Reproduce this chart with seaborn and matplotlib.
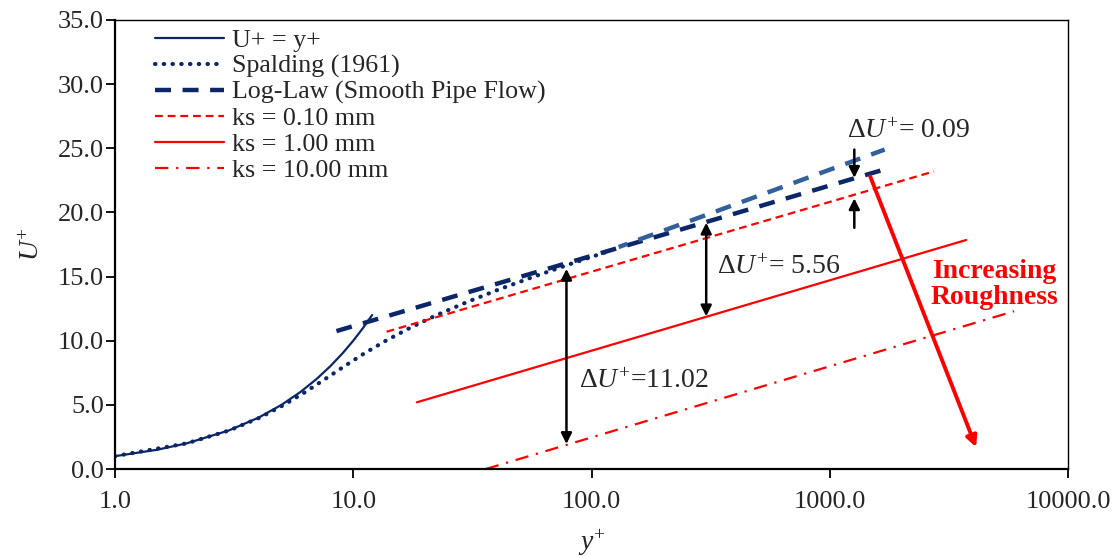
import numpy as np
import pandas as pd
import matplotlib
matplotlib.use("Agg")
import matplotlib.pyplot as plt
import matplotlib.ticker as mticker
import seaborn as sns

# U+ = y+ (viscous sublayer)
visc_yp = [1.0, 1.5, 2.0, 3.0, 4.0, 5.0, 6.0, 7.0, 8.0, 9.0, 10.0, 11.0, 12.0]
visc_up = [1.0, 1.5, 2.0, 3.0, 4.0, 5.0, 6.0, 7.0, 8.0, 9.0, 10.0, 11.0, 12.0]

# Spalding (1961)
spald_yp = [1.0, 2.0, 3.01, 4.05, 5.12, 6.29, 7.6, 9.16, 11.1, 13.7, 17.3, 22.4,
            29.9, 40.9, 57.4, 82.1, 98.8, 119.0]
spald_up = [1.0, 2.0, 3.0, 4.0, 5.0, 6.0, 7.0, 8.0, 9.0, 10.0, 11.0, 12.0,
            13.0, 14.0, 15.0, 16.0, 16.5, 17.0]

# log-law lines (straight on log axis -> end points)
loglaw_yp = [8.5, 1660.0]
loglaw_up = [10.75, 23.3]
loglaw2_yp = [130.0, 1700.0]
loglaw2_up = [17.3, 24.9]

ks010_yp = [13.8, 2740.0]
ks010_up = [10.7, 23.2]
ks100_yp = [18.5, 3735.0]
ks100_up = [5.2, 17.85]
ks1000_yp = [36.0, 5940.0]
ks1000_up = [0.0, 12.3]

# annotations
arr_002_x, arr_002_top, arr_002_bot = 1268.0, 24.9, 22.7
arr_002_up_bot, arr_002_up_top = 18.8, 21.1
arr_556_x, arr_556_top, arr_556_bot = 303.0, 19.2, 11.9
arr_1102_x, arr_1102_top, arr_1102_bot = 78.5, 15.6, 1.95
rough_start = (1479.0, 22.8)
rough_end = (4113.0, 1.7)

sns.set_style("ticks")
plt.rcParams['font.family'] = ['Liberation Serif', 'DejaVu Serif']
plt.rcParams['mathtext.fontset'] = 'custom'
plt.rcParams['mathtext.rm'] = 'Liberation Serif'
plt.rcParams['mathtext.it'] = 'Liberation Serif:italic'

navy = '#0B2767'
lightnavy = '#33609A'
red = '#FF0000'

fig = plt.figure(figsize=(11.18, 5.56), dpi=100)
ax = fig.add_axes([115/1118, 1 - 469/556, (1068-115)/1118, (469-20)/556])

sns.lineplot(x=visc_yp, y=visc_up, ax=ax, color=navy, lw=1.6, label='U+ = y+')
sns.lineplot(x=spald_yp, y=spald_up, ax=ax, color=navy, lw=3.0,
             linestyle=(0, (0.1, 2.0)), dash_capstyle='round', label='Spalding (1961)')
sns.lineplot(x=loglaw_yp, y=loglaw_up, ax=ax, color=navy, lw=3.2,
             linestyle=(0, (3.6, 2.6)), label='Log-Law (Smooth Pipe Flow)')
sns.lineplot(x=loglaw2_yp, y=loglaw2_up, ax=ax, color=lightnavy, lw=3.2,
             linestyle=(1.5, (3.6, 2.6)))
sns.lineplot(x=ks010_yp, y=ks010_up, ax=ax, color=red, lw=1.6,
             linestyle=(0, (3.5, 2.2)), label='ks = 0.10 mm')
sns.lineplot(x=ks100_yp, y=ks100_up, ax=ax, color=red, lw=1.6, label='ks = 1.00 mm')
sns.lineplot(x=ks1000_yp, y=ks1000_up, ax=ax, color=red, lw=1.6,
             linestyle=(0, (6.0, 3.5, 1.0, 3.5)), label='ks = 10.00 mm')

ax.set_xscale('log')
ax.set_xlim(1, 10000)
ax.set_ylim(0, 35)
ax.xaxis.set_major_locator(mticker.FixedLocator([1, 10, 100, 1000, 10000]))
ax.xaxis.set_minor_locator(mticker.NullLocator())
ax.xaxis.set_major_formatter(mticker.FuncFormatter(lambda v, p: f'{v:.1f}'))
ax.yaxis.set_major_locator(mticker.MultipleLocator(5))
ax.yaxis.set_major_formatter(mticker.FormatStrFormatter('%.1f'))
ax.tick_params(axis='both', labelsize=19, direction='out', length=6.5, width=1.3, color='black')
ax.tick_params(axis='x', pad=9)
ax.tick_params(axis='y', pad=1.5)
for s in ['left', 'bottom']:
    ax.spines[s].set_linewidth(1.6)
for s in ['top', 'right']:
    ax.spines[s].set_linewidth(1.0)
for s in ax.spines.values():
    s.set_color('black')

ax.set_xlabel(r'$y^{+}$', fontsize=20, labelpad=11)
ax.set_ylabel(r'$U^{+}$', fontsize=20, labelpad=9)

# arrows
def darrow(x, y0, y1, style):
    ax.annotate('', xy=(x, y1), xytext=(x, y0),
                arrowprops=dict(arrowstyle=style, color='black', lw=1.8,
                                mutation_scale=16, shrinkA=0, shrinkB=0))

darrow(arr_1102_x, arr_1102_top, arr_1102_bot, '<|-|>')
darrow(arr_556_x, arr_556_top, arr_556_bot, '<|-|>')
darrow(arr_002_x, arr_002_top, arr_002_bot, '-|>')
darrow(arr_002_x, arr_002_up_bot, arr_002_up_top, '-|>')
ax.annotate('', xy=rough_end, xytext=rough_start,
            arrowprops=dict(arrowstyle='-|>', color=red, lw=2.8,
                            mutation_scale=16, shrinkA=0, shrinkB=0))

ax.text(1183, 26.3, r'$\Delta U^{+}$= 0.09', fontsize=20, va='center', ha='left')
ax.text(337, 15.7, r'$\Delta U^{+}$= 5.56', fontsize=20, va='center', ha='left')
ax.text(89, 6.8, r'$\Delta U^{+}$=11.02', fontsize=20, va='center', ha='left')
ax.text(4900, 14.4, 'Increasing\nRoughness', fontsize=20, color=red,
        fontweight='bold', ha='center', va='center', linespacing=1.05)

ax.legend(loc='upper left', bbox_to_anchor=(0.027, 1.012), frameon=False,
          fontsize=18.7, handlelength=2.65, handletextpad=0.3, labelspacing=0.1,
          borderpad=0.05)

fig.savefig('out.png', dpi=100)
